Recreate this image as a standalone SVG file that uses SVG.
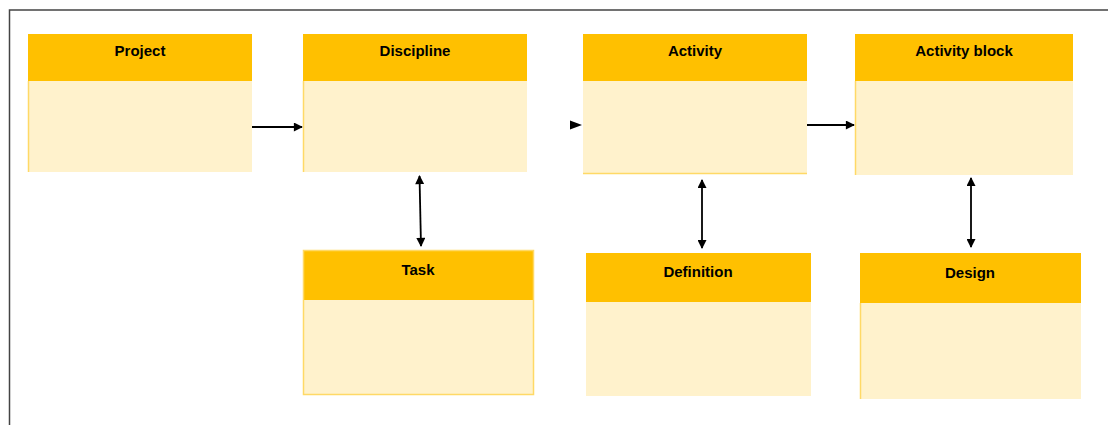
<svg xmlns="http://www.w3.org/2000/svg" width="1108" height="425" viewBox="0 0 1108 425">
<style>
.hd{fill:#FFC000;}
.bd{fill:#FFF2CC;}
.edge{stroke:#FFD966;stroke-width:1.5;fill:none;}
.t{font-family:"Liberation Sans",Arial,sans-serif;font-weight:bold;font-size:15px;fill:#000;text-anchor:middle;}
.c{stroke:#000;stroke-width:1.8;fill:none;}
</style>
<defs>
<marker id="ah" viewBox="0 0 10 10" refX="9" refY="5" markerWidth="5.5" markerHeight="5" orient="auto-start-reverse" markerUnits="strokeWidth">
<path d="M0,0 L10,5 L0,10 z" fill="#000"/>
</marker>
</defs>
<rect width="1108" height="425" fill="#fff"/>
<path d="M9.5,430 V10 H1120" stroke="#444" stroke-width="1.5" fill="none"/>
<g id="project">
<rect class="bd" x="28" y="81" width="224" height="91"/>
<rect class="hd" x="28" y="34" width="224" height="47"/>
<line class="edge" x1="28.5" y1="81" x2="28.5" y2="172"/>
<text class="t" x="140" y="56">Project</text>
</g>
<g id="discipline">
<rect class="bd" x="303" y="81" width="224" height="91"/>
<rect class="hd" x="303" y="34" width="224" height="47"/>
<line class="edge" x1="303.5" y1="81" x2="303.5" y2="172"/>
<text class="t" x="415" y="56">Discipline</text>
</g>
<g id="activity">
<rect class="bd" x="583" y="81" width="224" height="92"/>
<rect class="hd" x="583" y="34" width="224" height="47"/>
<line class="edge" x1="583" y1="173.5" x2="807" y2="173.5"/>
<text class="t" x="695" y="56">Activity</text>
</g>
<g id="activity-block">
<rect class="bd" x="855" y="81" width="218" height="94"/>
<rect class="hd" x="855" y="34" width="218" height="47"/>
<line class="edge" x1="855.5" y1="81" x2="855.5" y2="175"/>
<text class="t" x="964" y="56">Activity block</text>
</g>
<g id="task">
<rect class="bd" x="303" y="300" width="231" height="95"/>
<rect class="hd" x="303" y="250" width="231" height="50"/>
<rect class="edge" x="303.5" y="250.5" width="230" height="144"/>
<text class="t" x="418" y="275">Task</text>
</g>
<g id="definition">
<rect class="bd" x="586" y="302" width="225" height="94"/>
<rect class="hd" x="586" y="253" width="225" height="49"/>
<text class="t" x="698" y="277">Definition</text>
</g>
<g id="design">
<rect class="bd" x="860" y="303" width="221" height="96"/>
<rect class="hd" x="860" y="253" width="221" height="50"/>
<line class="edge" x1="860.5" y1="303" x2="860.5" y2="399"/>
<text class="t" x="970" y="278">Design</text>
</g>
<g id="connectors">
<line class="c" x1="252" y1="127" x2="302" y2="127" marker-end="url(#ah)"/>
<path d="M570,120.5 L582,125 L570,129.5 z" fill="#000"/>
<line class="c" x1="807" y1="125" x2="854" y2="125" marker-end="url(#ah)"/>
<line class="c" x1="419.5" y1="176" x2="421" y2="246" marker-start="url(#ah)" marker-end="url(#ah)"/>
<line class="c" x1="702" y1="180" x2="702" y2="248" marker-start="url(#ah)" marker-end="url(#ah)"/>
<line class="c" x1="971" y1="178" x2="971" y2="247" marker-start="url(#ah)" marker-end="url(#ah)"/>
</g>
</svg>
